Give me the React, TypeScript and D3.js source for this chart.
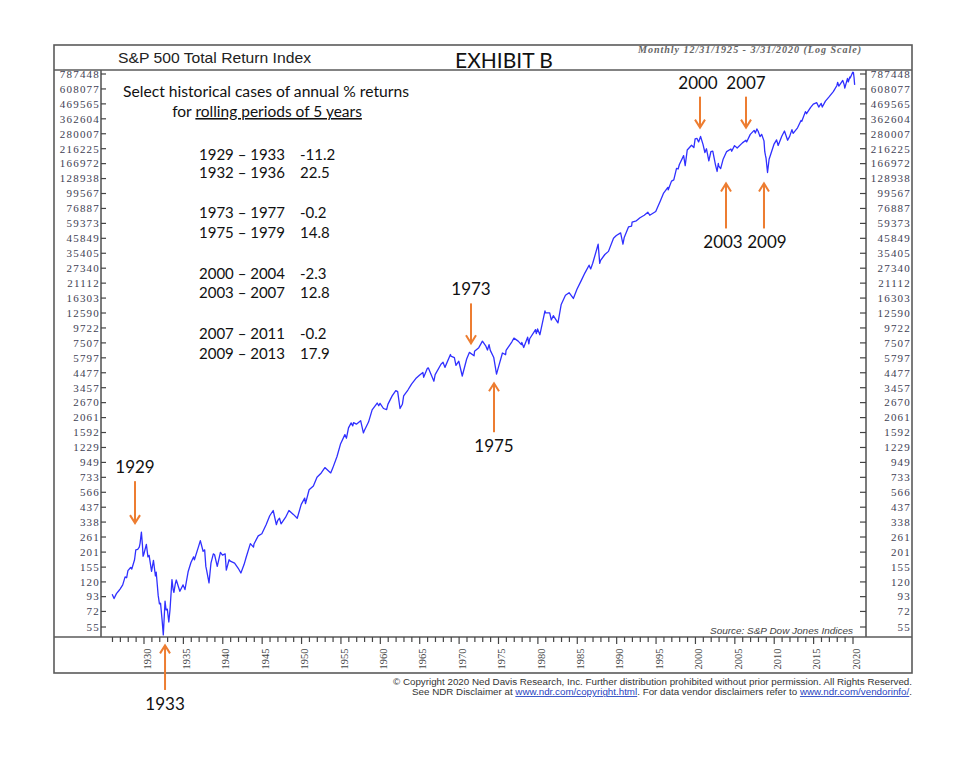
import React from 'react';
import * as d3 from 'd3';

const W = 967;
const H = 762;

const yTickLabels = [55, 72, 93, 120, 155, 201, 261, 338, 437, 566, 733, 949, 1229, 1592, 2061, 2670, 3457, 4477, 5797, 7507, 9722, 12590, 16303, 21112, 27340, 35405, 45849, 59373, 76887, 99567, 128938, 166972, 216225, 280007, 362604, 469565, 608077, 787448];

const xMajorYears = [1930, 1935, 1940, 1945, 1950, 1955, 1960, 1965, 1970, 1975, 1980, 1985, 1990, 1995, 2000, 2005, 2010, 2015, 2020];

const dataYears = [
  1925.96, 1926.2, 1926.5, 1926.8, 1926.96, 1927.3, 1927.6, 1927.8, 1927.96, 1928.3, 1928.45, 1928.8, 1928.96,
  1929.2, 1929.4, 1929.5, 1929.67, 1929.8, 1929.88, 1929.96, 1930.3, 1930.5, 1930.65, 1930.8, 1930.96,
  1931.2, 1931.45, 1931.55, 1931.8, 1931.96, 1932.1, 1932.3, 1932.45, 1932.67, 1932.8, 1932.96,
  1933.15, 1933.3, 1933.55, 1933.7, 1933.8, 1933.96, 1934.1, 1934.55, 1934.96, 1935.2, 1935.6, 1935.96,
  1936.3, 1936.4, 1936.96, 1937.15, 1937.5, 1937.7, 1937.85, 1937.96, 1938.25, 1938.5, 1938.8, 1938.96,
  1939.3, 1939.7, 1939.96, 1940.3, 1940.45, 1940.8, 1940.96, 1941.5, 1941.96, 1942.3, 1942.7, 1942.96,
  1943.5, 1943.9, 1943.96, 1944.5, 1944.96, 1945.5, 1945.96, 1946.4, 1946.8, 1946.96, 1947.2, 1947.4, 1947.96,
  1948.4, 1948.96, 1949.45, 1949.96, 1950.4, 1950.5, 1950.96, 1951.5, 1951.96, 1952.5, 1952.96, 1953.7, 1953.96,
  1954.5, 1954.96, 1955.5, 1955.7, 1955.96, 1956.3, 1956.5, 1956.6, 1956.96, 1957.5, 1957.85, 1957.96,
  1958.5, 1958.96, 1959.6, 1959.8, 1959.96, 1960.4, 1960.8, 1960.96, 1961.5, 1961.96, 1962.2, 1962.5, 1962.8, 1962.96,
  1963.5, 1963.96, 1964.5, 1964.96, 1965.4, 1965.5, 1965.96, 1966.1, 1966.8, 1966.96, 1967.7, 1967.96,
  1968.2, 1968.9, 1968.96, 1969.4, 1969.6, 1969.96, 1970.4, 1970.96, 1971.3, 1971.9, 1971.96, 1972.5, 1972.96,
  1973.4, 1973.6, 1973.8, 1973.96, 1974.4, 1974.75, 1974.96, 1975.5, 1975.9, 1975.96, 1976.7, 1976.96,
  1977.5, 1977.9, 1977.96, 1978.2, 1978.7, 1978.85, 1978.96, 1979.7, 1979.8, 1979.96, 1980.25, 1980.9, 1980.96,
  1981.5, 1981.7, 1981.96, 1982.55, 1982.96, 1983.5, 1983.96, 1984.5, 1984.96, 1985.5, 1985.96, 1986.5, 1986.7, 1986.96,
  1987.65, 1987.85, 1987.96, 1988.5, 1988.96, 1989.6, 1989.96, 1990.5, 1990.8, 1990.96, 1991.5, 1991.9, 1991.96,
  1992.5, 1992.96, 1993.5, 1993.96, 1994.2, 1994.96, 1995.5, 1995.96, 1996.5, 1996.55, 1996.96, 1997.25, 1997.6, 1997.8, 1997.96,
  1998.5, 1998.7, 1998.96, 1999.5, 1999.8, 1999.96, 2000.2, 2000.4, 2000.65, 2000.96, 2001.2, 2001.4, 2001.7, 2001.96,
  2002.2, 2002.55, 2002.75, 2002.9, 2002.96, 2003.2, 2003.5, 2003.96, 2004.5, 2004.6, 2004.96, 2005.3, 2005.96,
  2006.4, 2006.5, 2006.96, 2007.45, 2007.6, 2007.8, 2007.96, 2008.2, 2008.4, 2008.7, 2008.8, 2008.9, 2008.96,
  2009.15, 2009.35, 2009.96, 2010.3, 2010.5, 2010.96, 2011.3, 2011.7, 2011.96, 2012.25, 2012.4, 2012.96,
  2013.4, 2013.5, 2013.96, 2014.1, 2014.6, 2014.96, 2015.4, 2015.65, 2015.96, 2016.1, 2016.5, 2016.96,
  2017.5, 2017.96, 2018.05, 2018.2, 2018.7, 2018.88, 2018.96, 2019.3, 2019.4, 2019.6, 2019.65, 2019.96,
  2020.05, 2020.13, 2020.21,
];

const dataValues = [
  97, 90, 98, 103, 106, 114, 131, 129, 146, 154, 150, 176, 209,
  211, 219, 234, 284, 228, 187, 192, 230, 185, 190, 166, 144,
  174, 133, 142, 95, 82, 83, 62, 48, 86, 74, 75,
  60, 74, 125, 105, 100, 115, 124, 102, 114, 105, 143, 168,
  185, 176, 225, 245, 204, 209, 157, 146, 118, 166, 195, 192,
  157, 200, 191, 195, 147, 176, 172, 166, 152, 140, 162, 183,
  233, 219, 231, 266, 276, 323, 377, 413, 323, 346, 361, 328, 366,
  413, 386, 361, 459, 512, 465, 591, 632, 734, 791, 868, 791, 860,
  1051, 1312, 1535, 1442, 1726, 1879, 1786, 1888, 1839, 1953, 1581, 1641,
  1907, 2353, 2651, 2530, 2634, 2412, 2366, 2589, 3003, 3286, 3231, 2412, 2594, 2999,
  3322, 3683, 4050, 4290, 4505, 4141, 4824, 4869, 3868, 4338, 5187, 5378,
  4914, 6143, 5973, 5824, 5096, 5465, 4232, 5684, 6370, 6006, 6498, 6916, 7731,
  7098, 6643, 7280, 6598, 5824, 4368, 4851, 6300, 6120, 6583, 7650, 8153,
  7740, 7290, 7567, 6930, 8280, 7380, 8063, 9450, 8820, 9550, 8640, 13050, 12646,
  12600, 11160, 12025, 10620, 14600, 17100, 17887, 16200, 19008, 22050, 25121, 28800, 27000, 29760,
  41400, 29700, 31317, 34650, 36581, 45900, 48101, 50400, 41400, 46575, 55800, 56700, 60803,
  62100, 65467, 68400, 72007, 68400, 72948, 86400, 100253, 110700, 106200, 123385, 126000, 153900, 152100, 164549,
  191700, 161100, 211580, 229500, 220500, 256107, 258300, 243000, 267300, 232787, 202500, 216000, 175500, 205121,
  207000, 162900, 145800, 167400, 159781, 153000, 179100, 205631, 215100, 207000, 227988, 218700, 239180,
  250200, 243000, 276956, 297000, 283500, 304200, 292178, 266400, 277200, 247500, 205200, 190800, 184086,
  143100, 180000, 232787, 252000, 228600, 267847, 293400, 250200, 267500, 300960, 281600, 310253,
  352000, 347600, 410751, 396000, 440000, 466944, 479600, 444400, 473411, 444400, 492800, 530017,
  580800, 645735, 682000, 638000, 704000, 655600, 617408, 730400, 686400, 748000, 734800, 811800,
  810900, 744200, 652300,
];

const caseLabels = ['1929 – 1933', '1932 – 1936', '1973 – 1977', '1975 – 1979', '2000 – 2004', '2003 – 2007', '2007 – 2011', '2009 – 2013'];
const caseReturns = ['-11.2', '22.5', '-0.2', '14.8', '-2.3', '12.8', '-0.2', '17.9'];

const annoText = ['1929', '1933', '1973', '1975', '2000', '2007', '2003', '2009'];
const annoYear = [1928.86, 1932.67, 1971.51, 1974.43, 2000.58, 2006.42, 2003.88, 2008.7];
const annoTip = [332, 40, 7452, 3732, 311300, 311300, 118400, 118400];
const annoTail = [686, 18.5, 14870, 1600, 532000, 532000, 54390, 54390];

const FRAME = { left: 54, right: 912, top: 45, header: 70, bottom: 637, foot: 673 };
const AX_L = 101;
const AX_R = 866;

export default function App() {
  const x = d3.scaleLinear().domain([1930, 2020]).range([144, 853]);
  const y = d3.scaleLog().domain([55, 787448]).range([627, 74]);

  const pts = dataYears.map((yr, i) => [yr, dataValues[i]] as [number, number]);
  const line = d3.line<[number, number]>().x(d => x(d[0])).y(d => y(d[1]));

  const minorYears = d3.range(1926, 2021);
  const orange = '#ED7D31';
  const serif = '"Liberation Serif", "DejaVu Serif", serif';
  const sans = '"Liberation Sans", Arial, sans-serif';
  const cal = 'Lato, "Open Sans", sans-serif';
  const labelColor = '#3e3e52';
  const annoDx = [0, 0, 0, 0, -2, 0, -3, 3];

  return (
    <svg width={W} height={H} style={{ position: 'absolute', left: 0, top: 0, background: '#fff' }}>
      <rect x={0} y={0} width={W} height={H} fill="#fff" />
      {/* frame */}
      <rect x={FRAME.left} y={FRAME.top} width={FRAME.right - FRAME.left} height={FRAME.foot - FRAME.top} fill="none" stroke="#5a5a5a" strokeWidth={1.6} />
      <line x1={FRAME.left} x2={FRAME.right} y1={FRAME.header} y2={FRAME.header} stroke="#5a5a5a" strokeWidth={1.6} />
      <line x1={FRAME.left} x2={FRAME.right} y1={FRAME.bottom} y2={FRAME.bottom} stroke="#5a5a5a" strokeWidth={1.6} />
      <line x1={AX_L} x2={AX_L} y1={FRAME.header} y2={FRAME.bottom} stroke="#5a5a5a" strokeWidth={1.6} />
      <line x1={AX_R} x2={AX_R} y1={FRAME.header} y2={FRAME.bottom} stroke="#5a5a5a" strokeWidth={1.6} />

      {/* header */}
      <text x={118} y={63} textLength={193} lengthAdjust="spacingAndGlyphs" fontFamily={sans} fontSize={15} fill="#222">S&amp;P 500 Total Return Index</text>
      <text x={504} y={68} textAnchor="middle" fontFamily={cal} fontSize={21} fill="#111">EXHIBIT B</text>
      <text x={638} y={53} textLength={224} lengthAdjust="spacingAndGlyphs" fontFamily={serif} fontStyle="italic" fontWeight="bold" fontSize={9.5} letterSpacing={0.9} fill="#666">Monthly 12/31/1925 - 3/31/2020 (Log Scale)</text>

      {/* y ticks and labels */}
      {yTickLabels.map(v => (
        <g key={v}>
          <line x1={AX_L} x2={AX_L + 5} y1={y(v)} y2={y(v)} stroke="#444" strokeWidth={1.2} />
          <line x1={AX_R - 6} x2={AX_R} y1={y(v)} y2={y(v)} stroke="#444" strokeWidth={1.2} />
          <text x={100} y={y(v)} dy="0.35em" textAnchor="end" fontFamily={serif} fontSize={11} letterSpacing={1.2} fill={labelColor}>{v}</text>
          <text x={911} y={y(v)} dy="0.35em" textAnchor="end" fontFamily={serif} fontSize={11} letterSpacing={1.2} fill={labelColor}>{v}</text>
        </g>
      ))}

      {/* x ticks */}
      {minorYears.map(yr => {
        const major = yr % 5 === 0;
        return <line key={yr} x1={x(yr)} x2={x(yr)} y1={FRAME.bottom} y2={FRAME.bottom + (major ? 7 : 5)} stroke="#444" strokeWidth={1.2} />;
      })}
      {xMajorYears.map(yr => (
        <text key={yr} transform={`translate(${x(yr) + 3},659) rotate(-90)`} textAnchor="middle" dy="0.35em" fontFamily={serif} fontSize={10.5} fill="#444">{yr}</text>
      ))}

      {/* data line */}
      <path d={line(pts) || ''} fill="none" stroke="#3030ff" strokeWidth={1.3} strokeLinejoin="round" />

      {/* source */}
      <text x={710} y={634} textLength={143} lengthAdjust="spacingAndGlyphs" fontFamily={sans} fontStyle="italic" fontSize={9.5} fill="#444">Source: S&amp;P Dow Jones Indices</text>

      {/* text block */}
      <text x={123} y={97} textLength={286} lengthAdjust="spacingAndGlyphs" fontFamily={cal} fontSize={15.5} fill="#111">Select historical cases of annual % returns</text>
      <text x={267} y={117} textAnchor="middle" fontFamily={cal} fontSize={15.5} fill="#111">for <tspan style={{ textDecoration: 'underline' }}>rolling periods of 5 years</tspan></text>
      {caseLabels.map((c, i) => {
        const base = [160, 178, 218, 238, 279, 298, 339, 359][i];
        return (
          <g key={c + i}>
            <text x={199} y={base} fontFamily={cal} fontSize={15} fill="#111">{c}</text>
            <text x={300} y={base} fontFamily={cal} fontSize={15} fill="#111">{caseReturns[i]}</text>
          </g>
        );
      })}

      {/* annotations */}
      {annoText.map((t, i) => {
        const ax = x(annoYear[i]);
        const tip = y(annoTip[i]);
        const tail = y(annoTail[i]);
        const down = tip > tail;
        const s = down ? -1 : 1;
        const ly = down ? tail - 14 : tail + 14;
        return (
          <g key={t + i}>
            <line x1={ax} x2={ax} y1={tail} y2={tip} stroke={orange} strokeWidth={2} />
            <polyline points={`${ax - 5},${tip + s * 8} ${ax},${tip} ${ax + 5},${tip + s * 8}`} fill="none" stroke={orange} strokeWidth={2} />
            <text x={ax + annoDx[i]} y={ly} dy="0.35em" textAnchor="middle" fontFamily={cal} fontSize={17} fill="#111">{t}</text>
          </g>
        );
      })}

      {/* footer */}
      <text x={393} y={685} textLength={519} lengthAdjust="spacingAndGlyphs" fontFamily={sans} fontSize={8.5} fill="#333">© Copyright 2020 Ned Davis Research, Inc.  Further distribution prohibited without prior permission.  All Rights Reserved.</text>
      <text x={412} y={695} textLength={500} lengthAdjust="spacingAndGlyphs" fontFamily={sans} fontSize={8.5} fill="#333">See NDR Disclaimer at <tspan fill="#1f3fbf" style={{ textDecoration: 'underline' }}>www.ndr.com/copyright.html</tspan>. For data vendor disclaimers refer to <tspan fill="#1f3fbf" style={{ textDecoration: 'underline' }}>www.ndr.com/vendorinfo/</tspan>.</text>
    </svg>
  );
}
